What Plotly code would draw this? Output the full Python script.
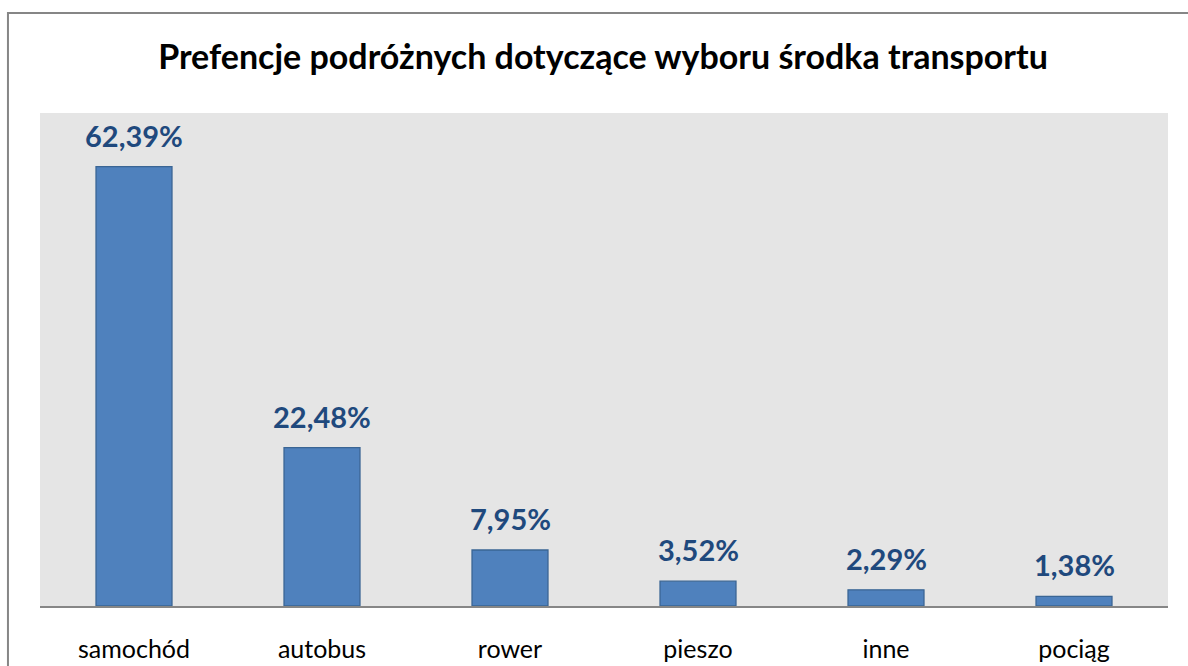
import plotly.graph_objects as go

categories = ["samochód", "autobus", "rower", "pieszo", "inne", "pociąg"]
shares = [62.39, 22.48, 7.95, 3.52, 2.29, 1.38]
title_text = "Prefencje podróżnych dotyczące wyboru środka transportu"


def fmt_pct(v):
    return f"{v:.2f}".replace(".", ",") + "%"


fig = go.Figure()
fig.add_trace(go.Bar(
    x=categories,
    y=shares,
    marker=dict(color="#4f81bd", line=dict(color="#3a6594", width=1.3)),
    hoverinfo="skip",
))

for cat, val in zip(categories, shares):
    fig.add_annotation(
        x=cat, y=val, xref="x", yref="y",
        text=fmt_pct(val), showarrow=False,
        yanchor="bottom", yshift=12,
        font=dict(family="Lato", size=29, color="#1f497d", weight="bold"),
    )

# outer chart frame
fig.add_shape(
    type="rect", xref="paper", yref="paper",
    x0=-0.0284, x1=1.05, y0=-0.3, y1=1.2028,
    line=dict(color="#868686", width=2), fillcolor="rgba(0,0,0,0)", layer="below",
)

fig.update_layout(
    width=1188, height=666,
    margin=dict(l=40, r=20, t=113, b=60),
    paper_bgcolor="white",
    plot_bgcolor="#e5e5e5",
    bargap=0.596,
    showlegend=False,
    title=dict(
        text=title_text, xref="container", x=0.5076, xanchor="center",
        yref="container", y=1 - 57 / 666, yanchor="middle",
        font=dict(family="Lato", size=34, color="#000000", weight="bold"),
    ),
    xaxis=dict(
        showline=True, linecolor="#868686", linewidth=1.5,
        showgrid=False, ticks="", ticklabelstandoff=20, automargin=False,
        tickfont=dict(family="Lato", size=25, color="#000000"),
    ),
    yaxis=dict(
        range=[0, 70], visible=False, showgrid=False, zeroline=False,
        automargin=False,
    ),
)

fig.write_html("out.html")
